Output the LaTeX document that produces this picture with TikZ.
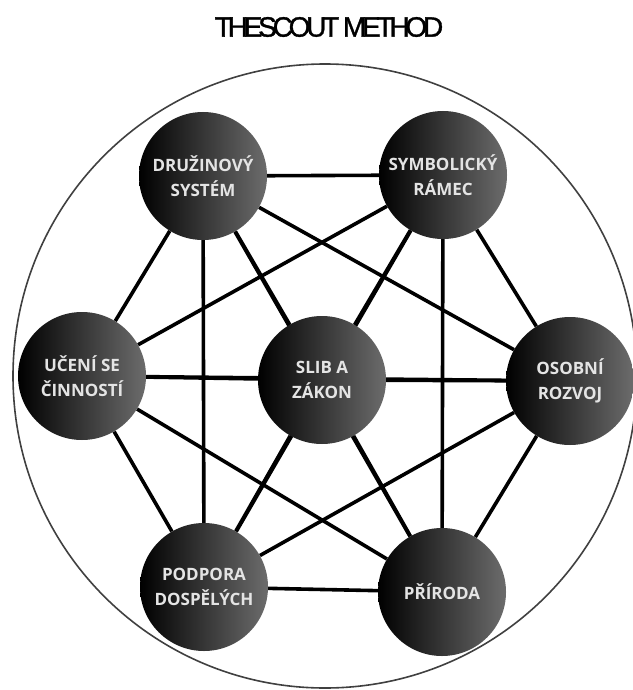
\documentclass[tikz,border=0pt]{standalone}
\usepackage{fontspec}
\setmainfont{Open Sans}
\newfontfamily\titlefont[LetterSpace=-15,FakeBold=1.2]{Liberation Sans}
\usetikzlibrary{backgrounds}
\definecolor{nodegray}{RGB}{108,108,108}
\definecolor{labelgray}{RGB}{228,228,228}
\tikzset{
  method/.style={circle, minimum size=128pt, inner sep=0pt,
    left color=black, right color=nodegray,
    text=labelgray, align=center,
    font=\bfseries\fontsize{17}{25}\selectfont},
  link/.style={line width=3.6pt, black},
  ring/.style={line width=1.6pt, draw=black!75}
}
\begin{document}
\begin{tikzpicture}[x=1pt,y=-1pt]
\useasboundingbox (0,0) rectangle (632,690);
\node (title) at (329,27) {\titlefont\fontsize{28}{30}\selectfont THESCOUT METHOD};
\node[method] (d) at (203,176) {DRUŽINOVÝ\\SYSTÉM};
\node[method] (s) at (443,175) {SYMBOLICKÝ\\RÁMEC};
\node[method] (u) at (82,376) {UČENÍ SE\\ČINNOSTÍ};
\node[method] (c) at (322,380) {SLIB A\\ZÁKON};
\node[method] (o) at (570,381) {OSOBNÍ\\ROZVOJ};
\node[method] (p) at (204,587) {PODPORA\\DOSPĚLÝCH};
\node[method] (r) at (442,592) {PŘÍRODA};
\begin{scope}[on background layer]
\coordinate (ringc) at (325,376);
\draw[ring] (ringc) circle[radius=312pt];
\foreach \a/\b in {d/s,d/u,d/c,d/o,d/p,d/r,s/u,s/c,s/o,s/p,s/r,u/c,u/o,u/p,u/r,c/o,c/p,c/r,o/p,o/r,p/r}
  \draw[link] (\a) -- (\b);
\end{scope}
\end{tikzpicture}
\end{document}
